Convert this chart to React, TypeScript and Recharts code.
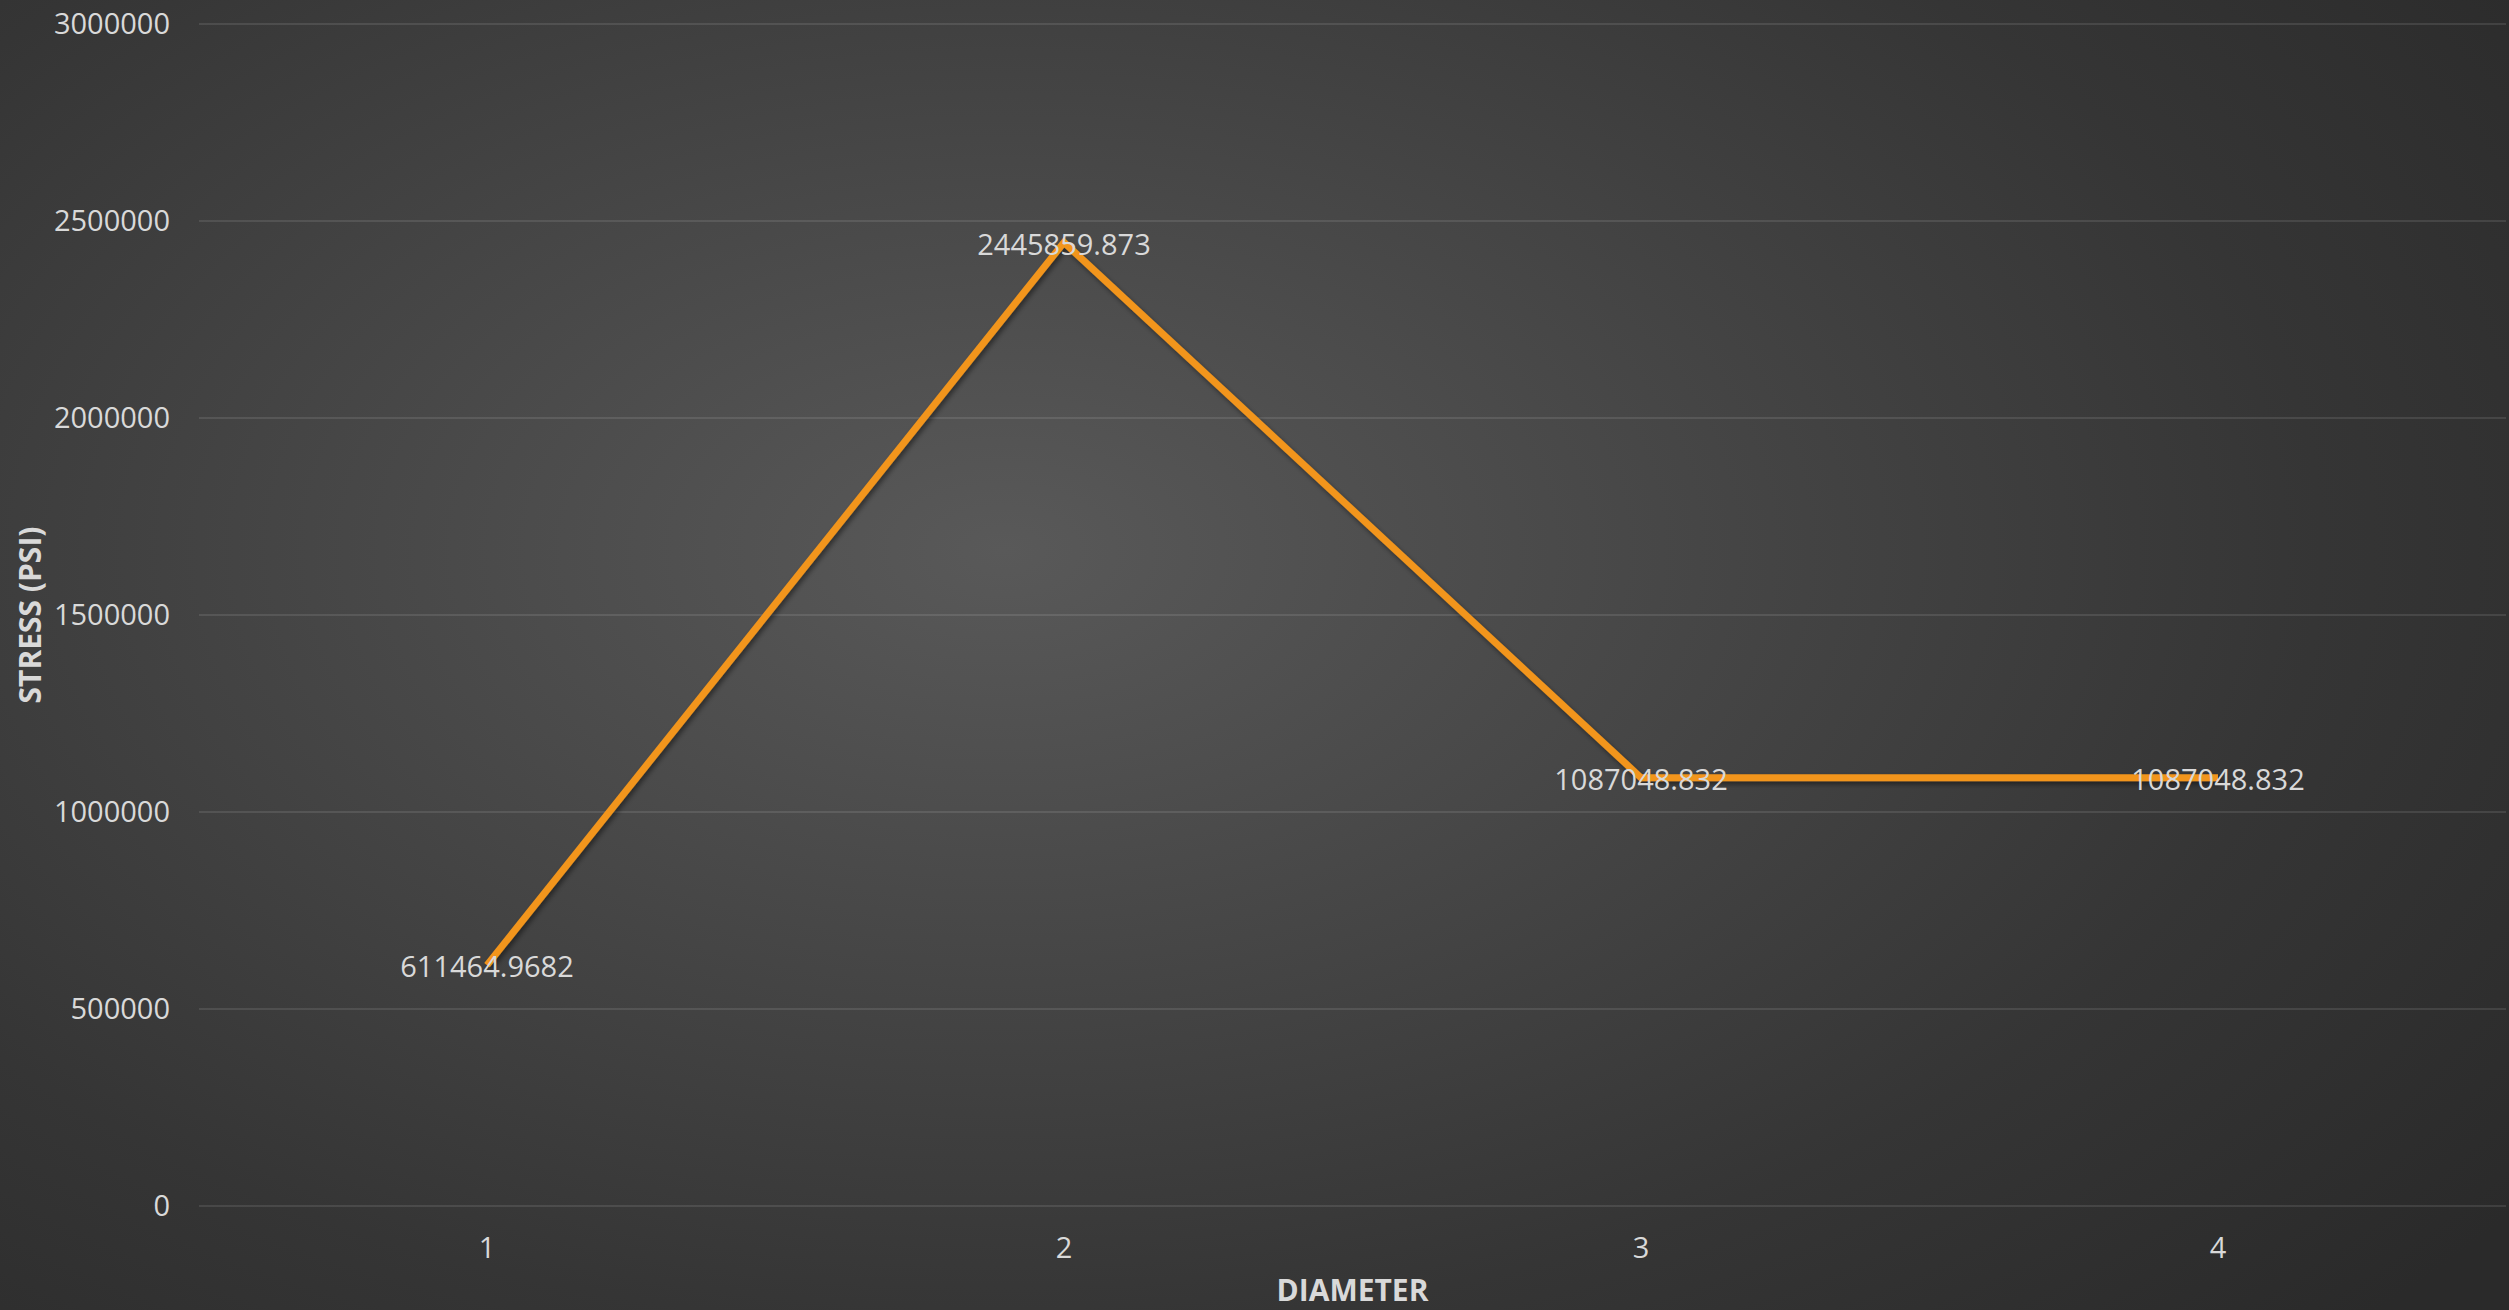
import React from 'react';
import { LineChart, Line, XAxis, YAxis, CartesianGrid, LabelList } from 'recharts';

const diameters = ['1', '2', '3', '4'];
const stress = [611464.9682, 2445859.873, 1087048.832, 1087048.832];
const yTicks = [0, 500000, 1000000, 1500000, 2000000, 2500000, 3000000];

const data = diameters.map((d, i) => ({ d, stress: stress[i] }));

const FONT = '"Open Sans", "DejaVu Sans", sans-serif';
const TEXT = '#d9d9d9';

const YTitle = (props: any) => {
  const vb = props.viewBox || {};
  const cx = 29;
  const cy = vb.y + vb.height / 2;
  return (
    <text
      x={cx}
      y={cy}
      transform={`rotate(-90, ${cx}, ${cy})`}
      textAnchor="middle"
      dominantBaseline="central"
      fill={TEXT}
      fontSize={30}
      fontWeight={700}
      fontFamily={FONT}
    >
      STRESS (PSI)
    </text>
  );
};

export default function App() {
  return (
    <div
      style={{
        position: 'absolute',
        left: 0,
        top: 0,
        width: 2509,
        height: 1310,
        background: 'radial-gradient(ellipse 75% 85% at 40% 42%, #595959 0%, #474747 35%, #353535 70%, #2a2a2a 100%)',
        fontFamily: FONT,
      }}
    >
      <LineChart width={2509} height={1310} data={data} margin={{ top: 24, right: 3, bottom: 0, left: 0 }}>
        <defs>
          <filter id="lineShadow" x="-10%" y="-10%" width="120%" height="120%">
            <feDropShadow dx="2" dy="3" stdDeviation="2.5" floodColor="#000" floodOpacity="0.45" />
          </filter>
        </defs>
        <CartesianGrid vertical={false} stroke="rgba(255,255,255,0.1)" strokeWidth={2} />
        <XAxis
          dataKey="d"
          height={104}
          padding={{ left: 288, right: 288 }}
          axisLine={false}
          tickLine={false}
          tickSize={0}
          tickMargin={31}
          tick={{ fill: TEXT, fontSize: 29, fontFamily: FONT }}
          label={{ value: 'DIAMETER', position: 'insideBottom', offset: 9, fill: TEXT, fontSize: 30, fontWeight: 700, fontFamily: FONT }}
        />
        <YAxis
          width={199}
          domain={[0, 3000000]}
          ticks={yTicks}
          interval={0}
          axisLine={false}
          tickLine={false}
          tickSize={0}
          tickMargin={29}
          tick={{ fill: TEXT, fontSize: 29, fontFamily: FONT }}
          label={<YTitle />}
        />
        <Line
          type="linear"
          dataKey="stress"
          stroke="#f2951b"
          strokeWidth={7}
          dot={false}
          activeDot={false}
          filter="url(#lineShadow)"
          isAnimationActive={false}
        >
          <LabelList dataKey="stress" position="center" dy={2} fill={TEXT} fontSize={29} fontFamily={FONT} />
        </Line>
      </LineChart>
    </div>
  );
}
